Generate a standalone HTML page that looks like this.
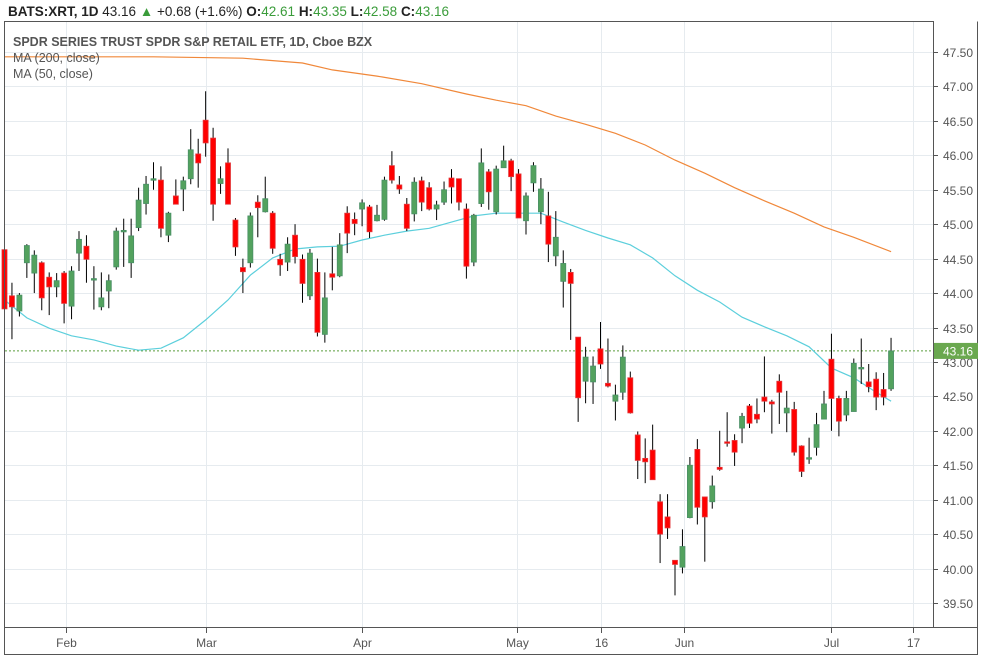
<!DOCTYPE html>
<html><head><meta charset="utf-8"><style>
body{margin:0;background:#fff;width:984px;height:664px;overflow:hidden;font-family:"Liberation Sans",sans-serif}
svg{position:absolute;left:0;top:0}
</style></head><body>
<svg id="chart" width="984" height="664" xmlns="http://www.w3.org/2000/svg">
<rect x="0" y="0" width="984" height="664" fill="#fff"/>
<g id="grid"></g>
<g id="ma200"></g>
<g id="ma50"></g>
<g id="candles"></g>
<rect x="4.5" y="21.5" width="929" height="606" fill="none" stroke="#555" stroke-width="1"/>
<rect x="4.5" y="627.5" width="973" height="27" fill="none" stroke="#555" stroke-width="1"/>
<line x1="977.5" y1="21.5" x2="977.5" y2="655" stroke="#555"/>
<g id="axes"></g>
<text x="8" y="16" font-size="13.5" fill="#222"><tspan font-weight="bold">BATS:XRT, 1D</tspan> 43.16 <tspan fill="#3a9c3a">▲</tspan> +0.68 (+1.6%) <tspan font-weight="bold">O:</tspan><tspan fill="#3a9c3a">42.61</tspan> <tspan font-weight="bold">H:</tspan><tspan fill="#3a9c3a">43.35</tspan> <tspan font-weight="bold">L:</tspan><tspan fill="#3a9c3a">42.58</tspan> <tspan font-weight="bold">C:</tspan><tspan fill="#3a9c3a">43.16</tspan></text>
<text x="13" y="46" font-size="12.5" fill="#555" font-weight="bold">SPDR SERIES TRUST SPDR S&amp;P RETAIL ETF, 1D, Cboe BZX</text>
<text x="13" y="62" font-size="12.5" fill="#555">MA (200, close)</text>
<text x="13" y="78" font-size="12.5" fill="#555">MA (50, close)</text>
</svg>
<script>
const opens=[44.63,43.96,43.74,44.44,44.29,44.44,44.23,44.09,44.29,43.81,44.58,44.68,44.2,43.8,44.03,44.38,44.89,44.44,44.95,45.3,45.64,45.64,44.84,45.41,45.51,45.66,46.02,46.51,46.25,45.59,45.89,45.06,44.37,44.44,45.32,45.18,45.16,44.49,44.45,44.84,44.49,43.96,44.3,43.4,44.28,44.25,45.16,45.07,45.22,45.25,45.05,45.07,45.85,45.57,45.29,45.15,45.63,45.53,45.22,45.32,45.67,45.66,45.22,44.45,45.3,45.76,45.18,45.82,45.92,45.73,45.05,45.6,45.18,45.12,44.54,44.17,44.3,43.36,42.72,42.71,43.19,42.69,42.43,42.56,42.77,41.94,41.6,41.72,40.97,40.75,40.12,40.02,40.74,41.73,41.04,40.97,41.47,41.84,41.86,42.04,42.36,42.24,42.49,42.42,42.72,42.26,42.31,41.78,41.59,41.76,42.17,43.04,42.47,42.23,42.28,42.9,42.71,42.75,42.6,42.61];
const highs=[44.7,44.15,44.0,44.71,44.62,44.46,44.3,44.29,44.32,44.39,44.9,44.84,44.39,44.3,44.27,44.95,45.08,45.08,45.53,45.7,45.9,45.84,45.18,45.65,45.69,46.38,46.24,46.93,46.4,45.84,46.1,45.09,44.5,45.17,45.42,45.69,45.19,44.57,44.81,45.0,44.56,44.64,44.5,44.3,44.67,44.87,45.26,45.17,45.36,45.28,45.28,45.69,46.06,45.7,45.38,45.68,45.69,45.61,45.34,45.62,45.8,45.66,45.3,45.15,46.1,45.8,45.85,46.14,45.95,45.8,45.46,45.9,45.67,45.47,45.19,44.62,44.35,43.36,43.22,43.08,43.58,43.34,42.67,43.24,42.86,41.99,41.89,42.09,41.08,41.08,40.12,40.57,41.62,41.88,41.04,41.35,42.0,42.27,41.95,42.26,42.39,42.47,43.08,42.45,42.82,42.58,42.42,41.79,41.9,42.26,42.58,43.41,42.51,42.58,43.05,43.34,42.97,42.85,42.84,43.35];
const lows=[43.7,43.33,43.66,44.22,44.0,43.75,43.68,43.94,43.56,43.62,44.32,44.15,43.76,43.75,43.78,44.34,44.38,44.22,44.9,45.14,45.5,44.81,44.74,45.29,45.19,45.58,45.53,45.98,45.05,45.44,45.29,44.54,44.0,44.37,44.81,45.17,44.57,44.25,44.32,44.43,43.86,43.9,43.37,43.28,44.04,44.23,44.58,44.84,44.97,44.8,45.04,45.05,45.59,45.44,44.9,45.04,45.19,45.2,45.06,45.28,45.3,45.2,44.21,44.39,45.25,45.21,45.14,45.82,45.48,45.09,44.85,45.47,45.0,44.45,44.39,43.79,43.32,42.13,42.4,42.39,42.9,42.63,42.15,42.45,42.25,41.3,41.24,41.29,40.08,40.43,39.61,39.93,40.73,40.64,40.1,40.87,41.42,41.77,41.49,41.82,42.04,42.11,42.27,41.96,42.1,41.98,41.64,41.33,41.52,41.64,42.17,42.0,41.92,42.14,42.28,42.68,42.56,42.3,42.37,42.58];
const closes=[43.77,43.8,43.97,44.69,44.55,43.93,44.09,44.18,43.85,44.32,44.78,44.49,44.21,43.93,44.18,44.9,44.91,44.83,45.35,45.58,45.66,44.94,45.16,45.29,45.63,46.08,45.89,46.18,45.29,45.66,45.29,44.67,44.31,45.12,45.24,45.37,44.65,44.41,44.71,44.53,44.14,44.58,43.43,43.93,44.23,44.7,44.87,45.01,45.31,44.89,45.13,45.64,45.64,45.51,44.94,45.61,45.32,45.22,45.28,45.5,45.54,45.32,44.39,45.13,45.89,45.47,45.8,45.92,45.69,45.09,45.41,45.85,45.51,44.71,44.81,44.43,44.14,42.48,43.07,42.94,42.97,42.65,42.52,43.07,42.26,41.57,41.55,41.29,40.5,40.59,40.06,40.32,41.5,40.89,40.75,41.2,41.44,41.82,41.69,42.21,42.11,42.17,42.43,42.39,42.56,42.33,41.69,41.41,41.61,42.09,42.39,42.47,42.14,42.47,42.98,42.92,42.64,42.49,42.49,43.16];
const ma50Idx=[0,3,6,9,12,15,18,21,24,27,30,33,36,39,42,45,48,51,54,57,60,63,66,69,72,75,78,81,84,87,90,93,96,99,102,105,108,111,114,117,119];
const ma50Val=[43.90,43.64,43.49,43.38,43.32,43.23,43.17,43.20,43.35,43.61,43.90,44.26,44.51,44.64,44.67,44.68,44.77,44.84,44.90,44.94,45.03,45.12,45.16,45.16,45.16,45.03,44.91,44.80,44.70,44.51,44.25,44.04,43.87,43.65,43.51,43.38,43.22,42.91,42.77,42.56,42.43];
const ma200Idx=[0,20,32,40,44,50,56,62,66,70,74,78,82,86,90,94,98,102,106,110,114,119];
const ma200Val=[47.43,47.43,47.41,47.34,47.24,47.15,47.04,46.89,46.80,46.72,46.57,46.45,46.32,46.15,45.93,45.74,45.53,45.34,45.16,44.96,44.81,44.60];
const yTicks=[39.5,40,40.5,41,41.5,42,42.5,43,43.5,44,44.5,45,45.5,46,46.5,47,47.5];
const xTickLabels=["Feb","Mar","Apr","May","16","Jun","Jul","17"];
const xTickIdx=[8.25,27.05,48,68.8,80,91.2,111,122];
const lastPrice=43.16;

const NS="http://www.w3.org/2000/svg";
const xS=i=>4.5+i*7.45;
const yS=p=>52+(47.5-p)*68.875;
function mk(tag,attrs,parent){const e=document.createElementNS(NS,tag);for(const k in attrs)e.setAttribute(k,attrs[k]);parent.appendChild(e);return e;}
const grid=document.getElementById('grid'),axes=document.getElementById('axes'),cg=document.getElementById('candles');
yTicks.forEach(t=>{
  const y=Math.round(yS(t))+0.5;
  const gl=mk('line',{x1:5,x2:933,y1:y,y2:y,stroke:'#e6ebef'},grid);
  
  
  const tk=mk('line',{x1:933,x2:938,y1:y,y2:y,stroke:'#555'},axes);
  
  
  const tx=mk('text',{x:943,y:y+4.5,'font-size':12,fill:'#555'},axes);
  tx.textContent=t.toFixed(2);
  
  
});
xTickLabels.forEach((lab,k)=>{
  const x=Math.round(xS(xTickIdx[k]))+0.5;
  const gl=mk('line',{x1:x,x2:x,y1:22,y2:627,stroke:'#e6ebef'},grid);
  
  
  const tk=mk('line',{x1:x,x2:x,y1:628,y2:633,stroke:'#555'},axes);
  
  
  const tx=mk('text',{x:x,y:647,'font-size':12,fill:'#555','text-anchor':'middle'},axes);
  tx.textContent=lab;
  
  
});
function line(idx,val,color,parentId,name){
  const d=idx.map((i,k)=>(k?'L':'M')+xS(i).toFixed(1)+' '+yS(val[k]).toFixed(1)).join(' ');
  const p=mk('path',{d:d,fill:'none',stroke:color,'stroke-width':1.2},document.getElementById(parentId));
  
  
}
line(ma200Idx,ma200Val,'#f0883a','ma200','ma200-path');
line(ma50Idx,ma50Val,'#5ccfdc','ma50','ma50-path');
const ly=yS(lastPrice);
const dl=mk('line',{x1:5,x2:933,y1:ly,y2:ly,stroke:'#5a9e3c','stroke-dasharray':'2,2'},grid);


opens.forEach((o,i)=>{
  const c=closes[i],x=xS(i),up=c>=o;
  const w=mk('line',{x1:x,x2:x,y1:yS(highs[i]),y2:yS(lows[i]),stroke:'#000','stroke-width':1},cg);
  
  
  const top=yS(Math.max(o,c)),bot=yS(Math.min(o,c));
  const b=mk('rect',{x:x-2.5,y:top,width:5,height:Math.max(1.5,bot-top),fill:up?'#53a25e':'#ff0000',stroke:up?'#4a8f66':'#e2373a','stroke-width':0.8},cg);
  
  
});
const lb=mk('rect',{x:934,y:ly-8,width:44,height:16,fill:'#6aa84f'},axes);


const lt=mk('text',{x:943,y:ly+4.5,'font-size':12,fill:'#fff'},axes);
lt.textContent=lastPrice.toFixed(2);


</script>
</body></html>
